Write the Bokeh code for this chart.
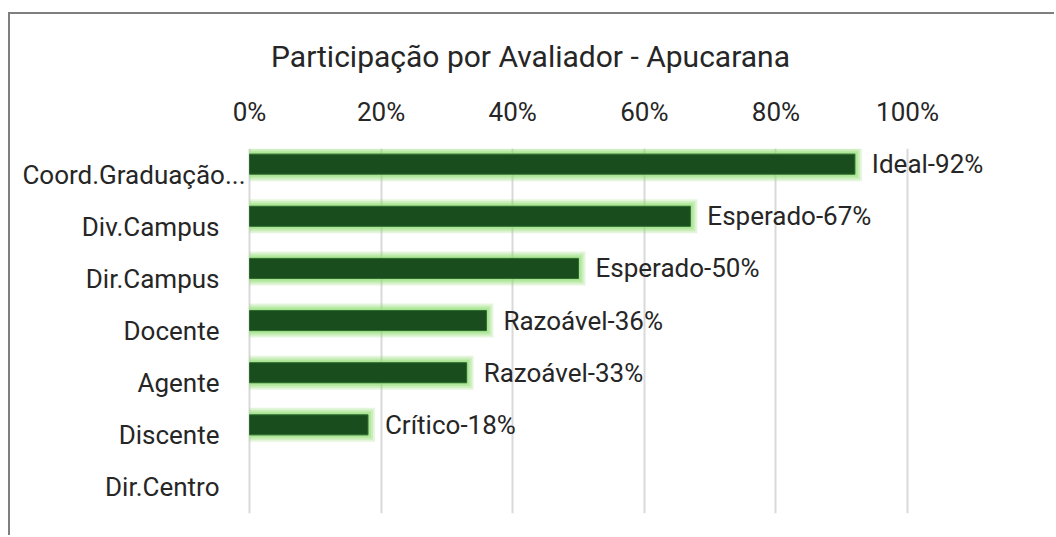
from bokeh.plotting import figure
from bokeh.models import (ColumnDataSource, FactorRange, Range1d, FixedTicker,
                          CustomJSTickFormatter, CDSView, BooleanFilter)
from bokeh.transform import dodge
from bokeh.core.properties import value
from bokeh.embed import file_html
from bokeh.resources import INLINE

# ---- data ----
categories = ["Coord.Graduação...", "Div.Campus", "Dir.Campus", "Docente",
              "Agente", "Discente", "Dir.Centro"]
participation = [92, 67, 50, 36, 33, 18, 0]
status = ["Ideal", "Esperado", "Esperado", "Razoável", "Razoável", "Crítico", ""]
x_ticks = [0, 20, 40, 60, 80, 100]
title_text = "Participação por Avaliador - Apucarana"

# ---- style constants ----
FONT = "Roboto"
TXT = "#262626"
BAR = "#1a4d1e"
BAR_EDGE = "#2a6a2e"
GLOW = "#8fdc6e"
PX_X = 6.58      # pixels per percent
PX_Y = 52.14     # pixels per category band
BAR_H = 0.384
BAR_SHIFT = 0.2
FS = "26px"

labels = [f"{s}-{v}%" if s else "" for s, v in zip(status, participation)]
cat_offsets = [-4 if c.endswith("...") else -30 for c in categories]

src = ColumnDataSource(dict(cat=categories, val=participation, lbl=labels,
                            coff=cat_offsets))
has_bar = CDSView(filter=BooleanFilter([v > 0 for v in participation]))

W, H = 1046, 523
left_b, right_b = 10, 16
frame_w = W - left_b - right_b
x0 = (20 - 249) / PX_X
x1 = x0 + frame_w / PX_X

p = figure(width=W, height=H, output_backend="svg", toolbar_location=None,
           x_range=Range1d(x0, x1),
           y_range=FactorRange(factors=list(reversed(categories)), range_padding=0),
           x_axis_location="above",
           min_border_left=left_b, min_border_right=right_b,
           min_border_top=134, min_border_bottom=24)
p.margin = (12, 0, 0, 8)
p.styles = {"border-left": "2px solid #7f7f7f", "border-top": "2px solid #7f7f7f"}

p.title.text = title_text
p.title.align = "center"
p.title.text_font = FONT
p.title.text_font_size = "30px"
p.title.text_font_style = "normal"
p.title.text_color = TXT
p.title.standoff = 39

p.outline_line_color = None
p.background_fill_color = "white"
p.border_fill_color = "white"

ax = p.xaxis[0]
ax.ticker = FixedTicker(ticks=x_ticks)
ax.formatter = CustomJSTickFormatter(code="return tick + '%';")
ax.axis_line_color = None
ax.major_tick_line_color = None
ax.minor_tick_line_color = None
ax.major_label_text_font = FONT
ax.major_label_text_font_size = FS
ax.major_label_text_color = TXT
ax.major_label_standoff = 16

p.yaxis.visible = False
p.ygrid.grid_line_color = None
p.xgrid.ticker = FixedTicker(ticks=x_ticks)
p.xgrid.grid_line_color = "#d9d9d9"
p.xgrid.grid_line_width = 2

ybar = dodge("cat", BAR_SHIFT, range=p.y_range)

# soft glow around bars
for ext, alpha in [(7, 0.25), (5, 0.3), (3, 0.4), (1, 0.45)]:
    p.hbar(y=ybar, left=0, right=dodge("val", ext / PX_X), height=BAR_H + 2 * ext / PX_Y,
           source=src, view=has_bar, fill_color=GLOW, fill_alpha=alpha, line_color=None)

p.hbar(y=ybar, left=0, right="val", height=BAR_H, source=src, view=has_bar,
       fill_color=BAR, line_color=BAR_EDGE, line_width=1)

# data labels
p.text(x="val", y=ybar, text="lbl", source=src, x_offset=17,
       text_align="left", text_baseline="middle", text_font=value(FONT),
       text_font_size=FS, text_color=TXT)

# category labels
p.text(x=0, y="cat", text="cat", source=src, x_offset="coff",
       text_align="right", text_baseline="middle", text_font=value(FONT),
       text_font_size=FS, text_color=TXT)

open("out.html", "w").write(file_html(p, INLINE))
